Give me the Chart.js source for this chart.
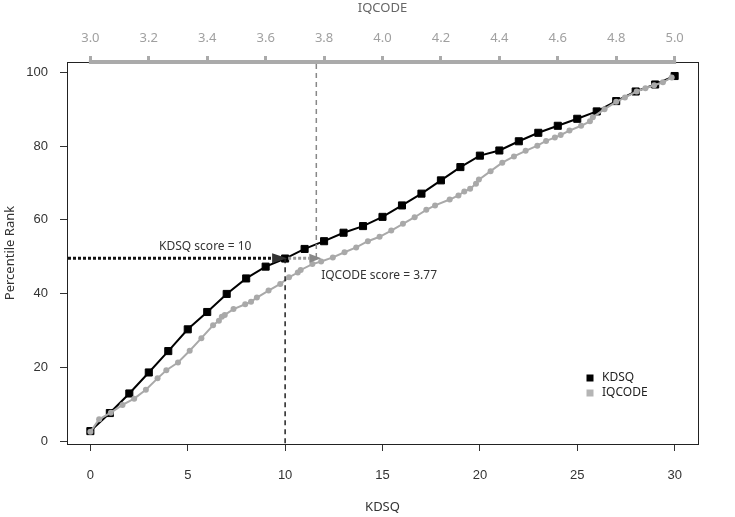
<!DOCTYPE html>
<html>
<head>
<meta charset="utf-8">
<style>
  html, body { margin: 0; padding: 0; background: #fff; }
  #wrap { width: 735px; height: 517px; }
</style>
<script src="https://cdn.jsdelivr.net/npm/chart.js@4/dist/chart.umd.min.js"></script>
</head>
<body>
<div id="wrap"><canvas id="chart" width="735" height="517"></canvas></div>
<script>
// KDSQ total score and its percentile rank
const kdsqScores = [0, 1, 2, 3, 4, 5, 6, 7, 8, 9, 10, 11, 12, 13, 14, 15, 16, 17, 18, 19, 20, 21, 22, 23, 24, 25, 26, 27, 28, 29, 30];
const kdsqRank = [2.7, 7.6, 12.9, 18.6, 24.4, 30.3, 35.0, 39.9, 44.1, 47.3, 49.5, 52.1, 54.2, 56.5, 58.3, 60.8, 63.9, 67.1, 70.7, 74.3, 77.4, 78.8, 81.3, 83.6, 85.5, 87.4, 89.4, 92.2, 94.8, 96.7, 99.0];

// IQCODE mean score and its percentile rank
const iqcodeScores = [3.00, 3.03, 3.07, 3.11, 3.15, 3.19, 3.23, 3.26, 3.30, 3.34, 3.38, 3.42, 3.44, 3.45, 3.46, 3.49, 3.53, 3.55, 3.57, 3.61, 3.65, 3.68, 3.71, 3.72, 3.76, 3.79, 3.83, 3.87, 3.91, 3.95, 3.99, 4.03, 4.07, 4.11, 4.15, 4.18, 4.23, 4.26, 4.28, 4.30, 4.32, 4.33, 4.37, 4.41, 4.45, 4.49, 4.53, 4.56, 4.59, 4.61, 4.64, 4.68, 4.71, 4.72, 4.76, 4.80, 4.83, 4.87, 4.90, 4.93, 4.96, 4.99];
const iqcodeRank = [2.5, 5.9, 7.7, 9.8, 11.5, 13.9, 17.0, 19.2, 21.3, 24.5, 27.9, 31.4, 32.6, 33.7, 34.2, 35.8, 37.1, 37.8, 38.9, 40.8, 42.6, 44.4, 45.7, 46.4, 48.0, 48.7, 49.8, 51.2, 52.5, 54.2, 55.4, 57.1, 58.9, 60.7, 62.7, 63.9, 65.5, 66.6, 67.7, 68.4, 69.8, 70.9, 73.2, 75.5, 77.2, 78.7, 80.1, 81.4, 82.3, 83.0, 84.2, 85.5, 86.7, 87.8, 90.0, 92.0, 93.2, 94.8, 95.7, 96.5, 97.3, 98.6];

// axis ticks
const kdsqTicks = [0, 5, 10, 15, 20, 25, 30];
const iqcodeTicks = [3.0, 3.2, 3.4, 3.6, 3.8, 4.0, 4.2, 4.4, 4.6, 4.8, 5.0];
const rankTicks = [0, 20, 40, 60, 80, 100];

// cut-off marked on the chart
const kdsqCut = 10;
const iqcodeCut = 3.77;
const cutRank = 49.6;

const txtFont = '"Noto Sans", sans-serif';
const numFont = '"Liberation Sans", Arial, sans-serif';

function setTicks(values) {
  return scale => { scale.ticks = values.map(v => ({ value: v })); };
}

function arrowHead(ctx, tipX, tipY, len, half, color) {
  ctx.save();
  ctx.fillStyle = color;
  ctx.beginPath();
  ctx.moveTo(tipX, tipY);
  ctx.lineTo(tipX - len, tipY - half);
  ctx.lineTo(tipX - len, tipY + half);
  ctx.closePath();
  ctx.fill();
  ctx.restore();
}

// box, top IQCODE axis line, cut-off guides, labels and legend
const decor = {
  id: 'decor',
  beforeDatasetsDraw(chart) {
    const { ctx, chartArea: a } = chart;
    ctx.save();
    ctx.strokeStyle = '#222';
    ctx.lineWidth = 1;
    ctx.strokeRect(a.left + 0.5, a.top + 0.5, a.right - a.left, a.bottom - a.top);
    const x2 = chart.scales.x2;
    ctx.strokeStyle = '#aaa';
    ctx.lineWidth = 4;
    ctx.beginPath();
    ctx.moveTo(x2.getPixelForValue(iqcodeTicks[0]) - 1.5, a.top);
    ctx.lineTo(x2.getPixelForValue(iqcodeTicks[iqcodeTicks.length - 1]) + 1.5, a.top);
    ctx.stroke();
    ctx.restore();
  },
  afterDatasetsDraw(chart) {
    const { ctx, chartArea: a, scales } = chart;
    const xk = scales.x.getPixelForValue(kdsqCut);
    const xi = scales.x2.getPixelForValue(iqcodeCut);
    const yc = scales.y.getPixelForValue(cutRank);
    ctx.save();

    // vertical guides
    ctx.lineWidth = 1.5;
    ctx.setLineDash([5, 4]);
    ctx.strokeStyle = '#222';
    ctx.beginPath();
    ctx.moveTo(xk, yc);
    ctx.lineTo(xk, a.bottom);
    ctx.stroke();
    ctx.strokeStyle = '#888';
    ctx.beginPath();
    ctx.moveTo(xi + 1, a.top + 2);
    ctx.lineTo(xi + 1, yc);
    ctx.stroke();

    // horizontal dotted arrows
    ctx.lineWidth = 3;
    ctx.setLineDash([3, 2]);
    ctx.strokeStyle = '#111';
    ctx.beginPath();
    ctx.moveTo(a.left + 1, yc);
    ctx.lineTo(xk - 12, yc);
    ctx.stroke();
    arrowHead(ctx, xk + 2, yc, 15, 5, '#333');
    ctx.strokeStyle = '#999';
    ctx.beginPath();
    ctx.moveTo(xk + 3, yc);
    ctx.lineTo(xi - 6, yc);
    ctx.stroke();
    arrowHead(ctx, xi + 6, yc, 12, 4.5, '#888');
    ctx.setLineDash([]);

    // labels
    ctx.fillStyle = '#333';
    ctx.font = '12px ' + txtFont;
    ctx.textBaseline = 'middle';
    ctx.textAlign = 'center';
    ctx.fillText('KDSQ score = ' + kdsqCut, scales.x.getPixelForValue(5.9), scales.y.getPixelForValue(52.7));
    ctx.textAlign = 'left';
    ctx.fillText('IQCODE score = ' + iqcodeCut, scales.x2.getPixelForValue(3.79), scales.y.getPixelForValue(44.8));
    ctx.restore();
  },
  afterDraw(chart) {
    const { ctx, chartArea: a } = chart;
    ctx.save();
    ctx.font = '12px ' + txtFont;
    ctx.textBaseline = 'middle';
    ctx.textAlign = 'left';
    chart.data.datasets.forEach((ds, i) => {
      const cy = a.bottom - 66 + i * 15;
      const cx = a.right - 108;
      ctx.fillStyle = ds.legendColor;
      ctx.fillRect(cx - 3.5, cy - 3.5, 7, 7);
      ctx.fillStyle = '#222';
      ctx.fillText(ds.label, cx + 12, cy);
    });
    ctx.restore();
  }
};

new Chart(document.getElementById('chart'), {
  type: 'line',
  data: {
    datasets: [
      {
        label: 'KDSQ',
        data: kdsqScores.map((s, i) => ({ x: s, y: kdsqRank[i] })),
        xAxisID: 'x',
        yAxisID: 'y',
        borderColor: '#000',
        backgroundColor: '#000',
        legendColor: '#000',
        borderWidth: 2,
        pointStyle: 'rect',
        pointRadius: 5,
        pointBorderWidth: 1,
        tension: 0,
        order: 2
      },
      {
        label: 'IQCODE',
        data: iqcodeScores.map((s, i) => ({ x: s, y: iqcodeRank[i] })),
        xAxisID: 'x2',
        yAxisID: 'y',
        borderColor: '#a9a9a9',
        backgroundColor: '#a9a9a9',
        legendColor: '#b5b5b5',
        borderWidth: 2,
        pointStyle: 'circle',
        pointRadius: 3,
        pointBorderWidth: 0,
        tension: 0,
        order: 1
      }
    ]
  },
  options: {
    responsive: false,
    animation: false,
    layout: { padding: { left: 0, right: 37, top: 0, bottom: 0 } },
    plugins: {
      legend: { display: false },
      tooltip: { enabled: false }
    },
    scales: {
      x: {
        type: 'linear',
        position: 'bottom',
        min: -1.2,
        max: 31.2,
        afterBuildTicks: setTicks(kdsqTicks),
        afterFit: s => { s.height = 73; },
        border: { display: false },
        grid: { drawOnChartArea: false, tickLength: 7, tickColor: '#333', tickWidth: 1 },
        ticks: { color: '#333', padding: 17, maxRotation: 0, font: { family: numFont, size: 13 } },
        title: { display: true, text: 'KDSQ', color: '#333', padding: { top: 0, bottom: 2 }, font: { family: txtFont, size: 13 } }
      },
      x2: {
        type: 'linear',
        position: 'top',
        min: 2.92,
        max: 5.08,
        afterBuildTicks: setTicks(iqcodeTicks),
        afterFit: s => { s.height = 62; },
        border: { display: false },
        grid: { drawOnChartArea: false, tickLength: 6, tickColor: '#aaa', tickWidth: 3 },
        ticks: { color: '#a0a0a0', padding: 10, maxRotation: 0, font: { family: txtFont, size: 13 }, callback: v => v.toFixed(1) },
        title: { display: true, text: 'IQCODE', color: '#666', padding: { top: 0, bottom: 0 }, font: { family: txtFont, size: 13 } }
      },
      y: {
        type: 'linear',
        min: -0.8,
        max: 102.8,
        afterBuildTicks: setTicks(rankTicks),
        afterFit: s => { s.width = 67; },
        border: { display: false },
        grid: { drawOnChartArea: false, tickLength: 7, tickColor: '#333', tickWidth: 1 },
        ticks: { color: '#333', padding: 12, font: { family: numFont, size: 13 } },
        title: { display: true, text: 'Percentile Rank', color: '#333', padding: { top: 2, bottom: 0 }, font: { family: txtFont, size: 13 } }
      }
    }
  },
  plugins: [decor]
});
</script>
</body>
</html>
